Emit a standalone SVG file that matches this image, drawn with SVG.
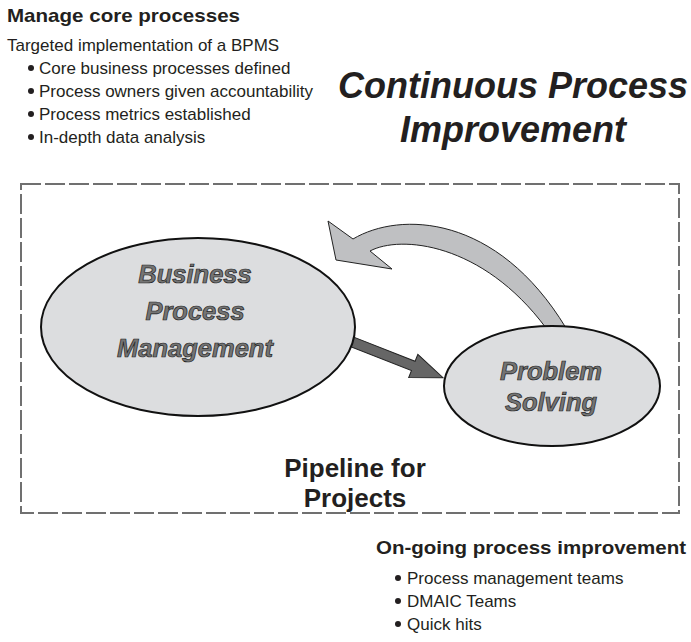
<svg xmlns="http://www.w3.org/2000/svg" width="691" height="642" viewBox="0 0 691 642">
<style>
.t{font-family:"Liberation Sans",Arial,sans-serif;fill:#231f20}
.h{font-weight:bold;font-size:18.5px}
.body{font-size:17px}
.dot{fill:#231f20}
.title{font-size:36px;font-weight:bold;font-style:italic;text-anchor:middle}
.node{fill:#dcdddf;stroke:#111;stroke-width:2}
.nl{font-family:"Liberation Sans",Arial,sans-serif;font-weight:bold;font-style:italic;font-size:25.5px;fill:#747474;stroke:#222;stroke-width:0.7;text-anchor:middle}
.pipe{font-size:26px;font-weight:bold;text-anchor:middle}
</style>
<rect width="691" height="642" fill="#fff"/>
<g id="header">
<text class="t h" x="7" y="22" textLength="233" lengthAdjust="spacingAndGlyphs">Manage core processes</text>
<text class="t body" x="7" y="51">Targeted implementation of a BPMS</text>
<g class="t body">
<text x="39" y="74">Core business processes defined</text>
<text x="39" y="97">Process owners given accountability</text>
<text x="39" y="120">Process metrics established</text>
<text x="39" y="143">In-depth data analysis</text>
</g>
<g class="dot">
<circle cx="31" cy="68" r="3"/>
<circle cx="31" cy="91" r="3"/>
<circle cx="31" cy="114" r="3"/>
<circle cx="31" cy="137" r="3"/>
</g>
</g>
<g id="title">
<text class="t title" x="513" y="98">Continuous Process</text>
<text class="t title" x="513" y="142">Improvement</text>
</g>
<rect id="frame" x="21" y="184" width="658" height="329" fill="none" stroke="#707070" stroke-width="2" stroke-dasharray="20 4"/>
<g id="connectors">
<path d="M328,221 L336,260 L392,269 L370,251 C400,235 482,242 546,328 L566,328 C497,214 400,211 353,239 Z" fill="#bfc0c2" stroke="#222" stroke-width="1"/>
<g transform="translate(350,341) rotate(21.5)">
<path d="M-10,-5 L-4,-5 L-4,5 L-10,5 Z" fill="#666" stroke="#333" stroke-width="0.8"/>
<path d="M0,-5 L68,-5 L68,-12.5 L100,0 L68,12.5 L68,5 L0,5 Z" fill="#666" stroke="#222" stroke-width="1"/>
</g>
</g>
<g id="bpm">
<ellipse class="node" cx="198" cy="327" rx="157" ry="89"/>
<text class="nl" x="195" y="283">Business</text>
<text class="nl" x="195" y="320">Process</text>
<text class="nl" x="195" y="357">Management</text>
</g>
<g id="ps">
<ellipse class="node" cx="552" cy="386" rx="108" ry="60"/>
<text class="nl" x="551" y="380">Problem</text>
<text class="nl" x="551" y="411">Solving</text>
</g>
<g id="pipeline">
<text class="t pipe" x="355" y="477">Pipeline for</text>
<text class="t pipe" x="355" y="507">Projects</text>
</g>
<g id="footer">
<text class="t h" x="376" y="554" textLength="310" lengthAdjust="spacingAndGlyphs">On-going process improvement</text>
<g class="t body">
<text x="407" y="584">Process management teams</text>
<text x="407" y="607">DMAIC Teams</text>
<text x="407" y="630">Quick hits</text>
</g>
<g class="dot">
<circle cx="398" cy="578" r="3"/>
<circle cx="398" cy="601" r="3"/>
<circle cx="398" cy="624" r="3"/>
</g>
</g>
</svg>
